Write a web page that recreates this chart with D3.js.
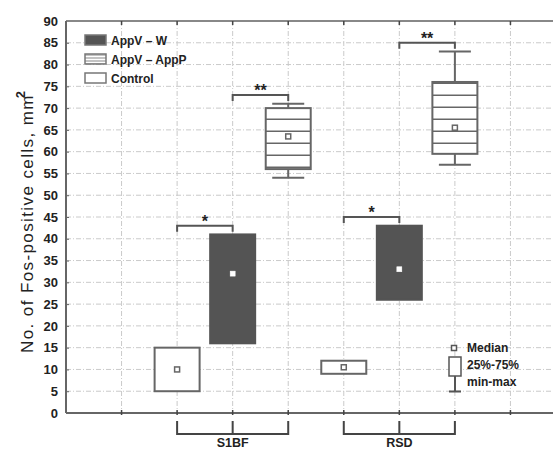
<!DOCTYPE html>
<html>
<head>
<meta charset="utf-8">
<script src="https://cdn.jsdelivr.net/npm/d3@7"></script>
<style>
  body { margin: 0; background: #fff; }
  svg { display: block; font-family: "Liberation Sans", Arial, sans-serif; }
</style>
</head>
<body>
<svg></svg>
<script>
// regions on the x axis and the three groups inside each
var regions = ["S1BF", "RSD"]
var groups = ["Control", "AppV – W", "AppV – AppP"]
var legendOrder = ["AppV – W", "AppV – AppP", "Control"]

// per group, one value per region
var medians = { "Control": [10, 10.5], "AppV – W": [32, 33], "AppV – AppP": [63.5, 65.5] }
var q1 = { "Control": [5, 9], "AppV – W": [16, 26], "AppV – AppP": [56, 59.5] }
var q3 = { "Control": [15, 12], "AppV – W": [41, 43], "AppV – AppP": [70, 76] }
var mins = { "Control": [5, 9], "AppV – W": [16, 26], "AppV – AppP": [54, 57] }
var maxs = { "Control": [15, 12], "AppV – W": [41, 43], "AppV – AppP": [71, 83] }

// significance brackets: region, group from, group to, level, label
var sigRegion = ["S1BF", "S1BF", "RSD", "RSD"]
var sigFrom = ["Control", "AppV – W", "Control", "AppV – W"]
var sigTo = ["AppV – W", "AppV – AppP", "AppV – W", "AppV – AppP"]
var sigLevel = [43, 73, 45, 85]
var sigLabel = ["*", "**", "*", "**"]

var yTicks = [0, 5, 10, 15, 20, 25, 30, 35, 40, 45, 50, 55, 60, 65, 70, 75, 80, 85, 90]
var xSlots = [0, 1, 2, 3, 4, 5, 6, 7, 8, 9]

var width = 553
var height = 452

var svg = d3.select("svg")
  .attr("width", width)
  .attr("height", height)

var x = d3.scaleLinear().domain([0, 9]).range([66, 566])
var y = d3.scaleLinear().domain([0, 90]).range([413, 21])

// slot for a box: region block of 3 slots starting at 2
function slot(region, group) {
  return 2 + regions.indexOf(region) * 3 + groups.indexOf(group)
}

var defs = svg.append("defs")
var hatch = defs.append("pattern")
  .attr("id", "hatch")
  .attr("patternUnits", "userSpaceOnUse")
  .attr("width", 12).attr("height", 12)
hatch.append("rect").attr("width", 12).attr("height", 12).attr("fill", "#fff")
hatch.append("line")
  .attr("x1", 0).attr("x2", 12).attr("y1", 11.5).attr("y2", 11.5)
  .attr("stroke", "#666").attr("stroke-width", 2)

var hatchSmall = defs.append("pattern")
  .attr("id", "hatchSmall")
  .attr("patternUnits", "userSpaceOnUse")
  .attr("width", 4).attr("height", 3)
hatchSmall.append("rect").attr("width", 4).attr("height", 3).attr("fill", "#fff")
hatchSmall.append("line")
  .attr("x1", 0).attr("x2", 4).attr("y1", 1).attr("y2", 1)
  .attr("stroke", "#888").attr("stroke-width", 1)

var fills = { "Control": "#fff", "AppV – W": "#545454", "AppV – AppP": "url(#hatch)" }

// grid
svg.append("g")
  .selectAll("line")
  .data(yTicks.filter(function (d) { return d > 0 && d < 90 }))
  .enter().append("line")
  .attr("x1", x(0)).attr("x2", width)
  .attr("y1", function (d) { return y(d) }).attr("y2", function (d) { return y(d) })
  .attr("stroke", "#cacaca").attr("stroke-width", 1)
  .attr("stroke-dasharray", "5,2,1,2")

svg.append("g")
  .selectAll("line")
  .data(xSlots.filter(function (d) { return d > 0 }))
  .enter().append("line")
  .attr("x1", function (d) { return x(d) }).attr("x2", function (d) { return x(d) })
  .attr("y1", y(90)).attr("y2", y(0))
  .attr("stroke", "#cacaca").attr("stroke-width", 1)
  .attr("stroke-dasharray", "5,2,1,2")

// y axis labels
var yAxis = d3.axisLeft(y).tickValues(yTicks).tickSize(-3).tickPadding(8)
var ya = svg.append("g").attr("transform", "translate(" + x(0) + ",0)").call(yAxis)
ya.select(".domain").remove()
ya.selectAll(".tick line").attr("stroke", "#666")
ya.selectAll("text")
  .attr("font-size", 13).attr("font-weight", "bold")
  .attr("fill", "#222").attr("font-family", "Liberation Sans, Arial, sans-serif")

// frame
svg.append("line").attr("x1", x(0)).attr("x2", width).attr("y1", y(0)).attr("y2", y(0))
  .attr("stroke", "#666").attr("stroke-width", 2)
svg.append("line").attr("x1", x(0)).attr("x2", width).attr("y1", y(90)).attr("y2", y(90))
  .attr("stroke", "#888").attr("stroke-width", 2)
svg.append("line").attr("x1", x(0)).attr("x2", x(0)).attr("y1", y(90)).attr("y2", y(0))
  .attr("stroke", "#666").attr("stroke-width", 2)

// x ticks on top and bottom
svg.append("g").selectAll("line")
  .data(xSlots.filter(function (d) { return d > 0 }))
  .enter().append("line")
  .attr("x1", function (d) { return x(d) }).attr("x2", function (d) { return x(d) })
  .attr("y1", y(90)).attr("y2", y(90) + 4)
  .attr("stroke", "#444").attr("stroke-width", 1.5)
svg.append("g").selectAll("line")
  .data(xSlots.filter(function (d) { return d > 0 }))
  .enter().append("line")
  .attr("x1", function (d) { return x(d) }).attr("x2", function (d) { return x(d) })
  .attr("y1", y(0) - 3).attr("y2", y(0) + 2)
  .attr("stroke", "#444").attr("stroke-width", 1.5)

// boxes
var boxW = 45
var boxes = []
groups.forEach(function (g) {
  regions.forEach(function (r, i) {
    boxes.push({ group: g, region: r, med: medians[g][i], lo: q1[g][i], hi: q3[g][i], min: mins[g][i], max: maxs[g][i] })
  })
})

var bg = svg.append("g")
boxes.forEach(function (b) {
  var cx = x(slot(b.region, b.group))
  if (b.max > b.hi) {
    bg.append("line").attr("x1", cx).attr("x2", cx).attr("y1", y(b.hi)).attr("y2", y(b.max))
      .attr("stroke", "#666").attr("stroke-width", 2)
    bg.append("line").attr("x1", cx - 16).attr("x2", cx + 16).attr("y1", y(b.max)).attr("y2", y(b.max))
      .attr("stroke", "#666").attr("stroke-width", 2)
  }
  if (b.min < b.lo) {
    bg.append("line").attr("x1", cx).attr("x2", cx).attr("y1", y(b.lo)).attr("y2", y(b.min))
      .attr("stroke", "#666").attr("stroke-width", 2)
    bg.append("line").attr("x1", cx - 16).attr("x2", cx + 16).attr("y1", y(b.min)).attr("y2", y(b.min))
      .attr("stroke", "#666").attr("stroke-width", 2)
  }
  bg.append("rect")
    .attr("x", cx - boxW / 2).attr("width", boxW)
    .attr("y", y(b.hi)).attr("height", y(b.lo) - y(b.hi))
    .attr("fill", fills[b.group])
    .attr("stroke", b.group === "AppV – W" ? "#545454" : "#666")
    .attr("stroke-width", 2)
  var dark = b.group === "AppV – W"
  bg.append("rect")
    .attr("x", cx - 2.5).attr("y", y(b.med) - 2.5)
    .attr("width", 5).attr("height", 5)
    .attr("fill", "#fff")
    .attr("stroke", dark ? "#fff" : "#666").attr("stroke-width", dark ? 0.5 : 1.5)
})

// significance brackets
var sg = svg.append("g")
sigLabel.forEach(function (lab, i) {
  var x1 = x(slot(sigRegion[i], sigFrom[i]))
  var x2 = x(slot(sigRegion[i], sigTo[i]))
  var yy = y(sigLevel[i])
  sg.append("path")
    .attr("d", "M" + x1 + "," + (yy + 6) + "V" + yy + "H" + x2 + "V" + (yy + 6))
    .attr("fill", "none").attr("stroke", "#555").attr("stroke-width", 2)
  sg.append("text")
    .attr("x", (x1 + x2) / 2).attr("y", yy + 1)
    .attr("text-anchor", "middle")
    .attr("font-size", 16).attr("font-weight", "bold").attr("fill", "#222")
    .text(lab)
})

// region brackets under the axis
var rg = svg.append("g")
regions.forEach(function (r) {
  var a = x(slot(r, groups[0]))
  var m = x(slot(r, groups[1]))
  var b = x(slot(r, groups[2]))
  rg.append("path")
    .attr("d", "M" + a + ",421V434H" + b + "V421M" + m + ",421V434")
    .attr("fill", "none").attr("stroke", "#444").attr("stroke-width", 2)
  rg.append("text")
    .attr("x", m).attr("y", 447)
    .attr("text-anchor", "middle")
    .attr("font-size", 12.5).attr("font-weight", "bold").attr("fill", "#222")
    .text(r)
})

// y title
var yt = svg.append("text")
  .attr("transform", "translate(32.5,222) rotate(-90)")
  .attr("text-anchor", "middle")
  .attr("font-size", 17).attr("fill", "#222")
  .attr("textLength", 262).attr("lengthAdjust", "spacing")
yt.append("tspan").text("No. of Fos-positive cells, mm")
yt.append("tspan").attr("dy", -8).attr("dx", -4).attr("font-size", 13).attr("font-weight", "bold").text("2")

// legend top-left
var lg = svg.append("g")
var legFills = { "Control": "#fff", "AppV – W": "#545454", "AppV – AppP": "url(#hatchSmall)" }
legendOrder.forEach(function (g, i) {
  var ty = 35 + i * 19
  lg.append("rect")
    .attr("x", 85).attr("y", ty).attr("width", 21).attr("height", 10)
    .attr("fill", legFills[g]).attr("stroke", "#777").attr("stroke-width", 1.5)
  lg.append("text")
    .attr("x", 111).attr("y", ty + 10)
    .attr("font-size", 12).attr("font-weight", "bold").attr("fill", "#222")
    .text(g)
})

// legend bottom-right
var kg = svg.append("g")
kg.append("rect").attr("x", 451.5).attr("y", 345.5).attr("width", 5).attr("height", 5)
  .attr("fill", "#fff").attr("stroke", "#555").attr("stroke-width", 1.5)
kg.append("rect").attr("x", 449).attr("y", 357).attr("width", 12).attr("height", 19)
  .attr("fill", "#fff").attr("stroke", "#555").attr("stroke-width", 1.5)
kg.append("path").attr("d", "M455,376V391.5M449,391.5H461")
  .attr("fill", "none").attr("stroke", "#555").attr("stroke-width", 2)
var keyLabels = ["Median", "25%-75%", "min-max"]
keyLabels.forEach(function (t, i) {
  kg.append("text")
    .attr("x", 467).attr("y", 352 + i * 17)
    .attr("font-size", 12).attr("font-weight", "bold").attr("fill", "#222")
    .text(t)
})
</script>
</body>
</html>
